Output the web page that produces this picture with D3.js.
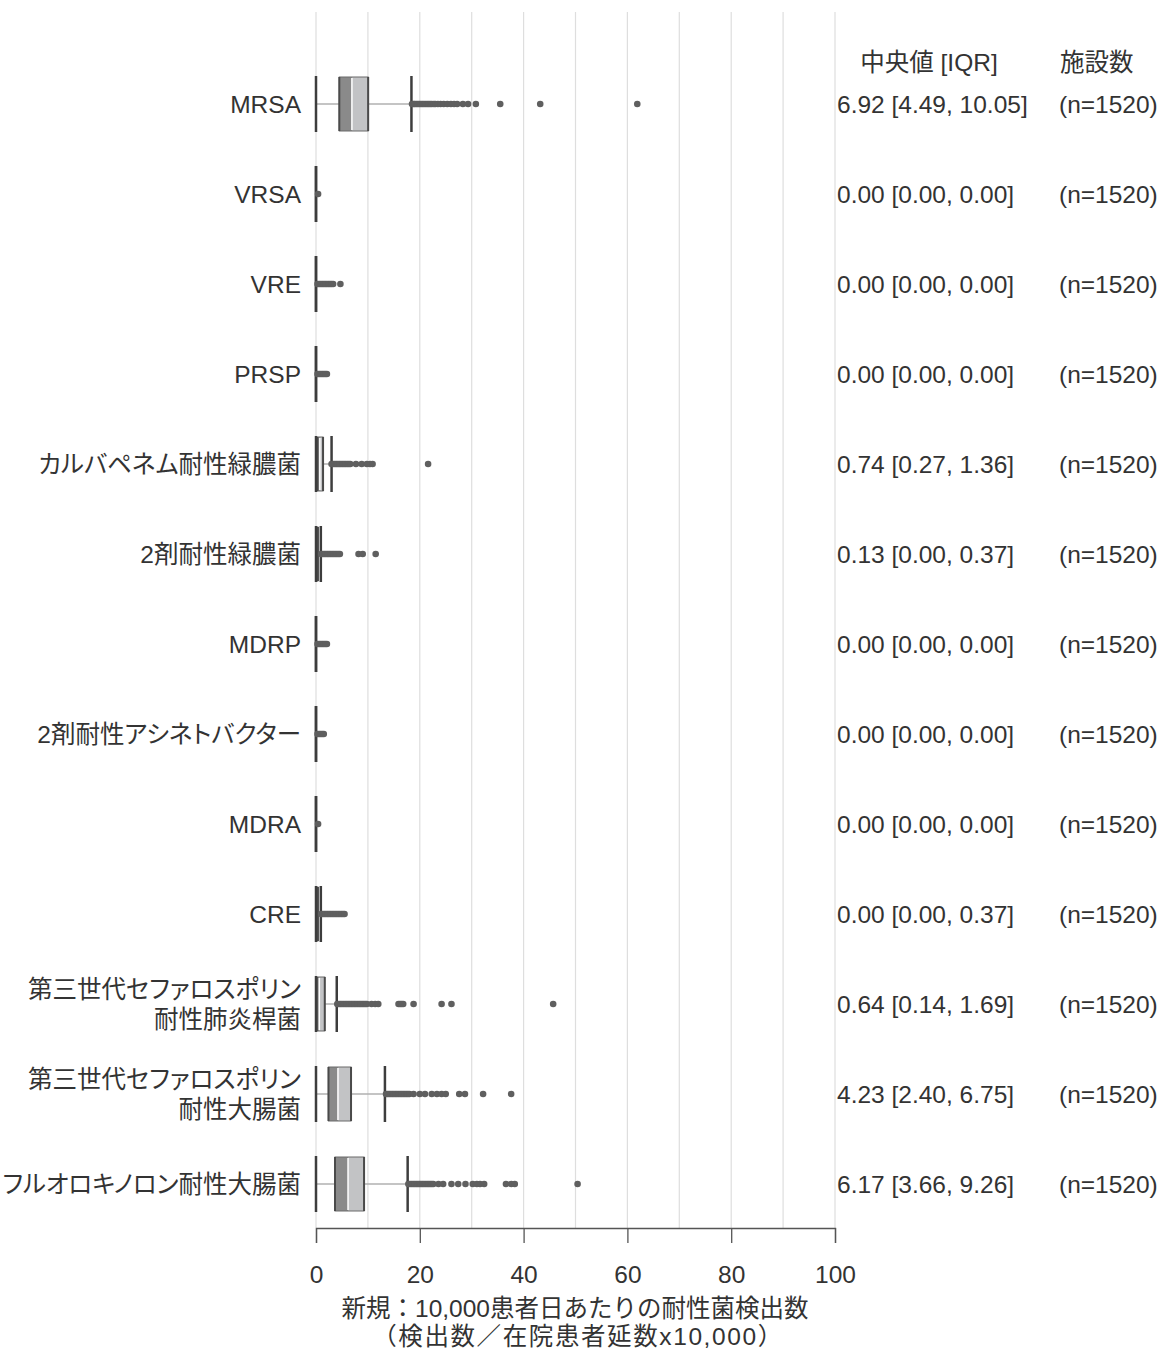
<!DOCTYPE html>
<html><head><meta charset="utf-8">
<script src="https://cdn.jsdelivr.net/npm/d3@7"></script>
<style>
html,body{margin:0;padding:0;background:#fff;}
svg text{font-family:"Liberation Sans",Arial,"Noto Sans CJK JP",sans-serif;fill:#333;}
svg text.cat{font-feature-settings:"palt";}
</style></head>
<body><svg id="c" width="1164" height="1349"></svg>
<script>
const categories = ["MRSA","VRSA","VRE","PRSP","カルバペネム耐性緑膿菌","2剤耐性緑膿菌","MDRP","2剤耐性アシネトバクター","MDRA","CRE","第三世代セファロスポリン\n耐性肺炎桿菌","第三世代セファロスポリン\n耐性大腸菌","フルオロキノロン耐性大腸菌"];
const whiskerLow = [0,0,0,0,0,0,0,0,0,0,0,0,0];
const q1 = [4.49,0,0,0,0.27,0,0,0,0,0,0.14,2.40,3.66];
const median = [6.92,0,0,0,0.74,0.13,0,0,0,0,0.64,4.23,6.17];
const q3 = [10.05,0,0,0,1.36,0.37,0,0,0,0.37,1.69,6.75,9.26];
const whiskerHigh = [18.39,0,0,0,3.0,0.93,0,0,0,0.93,4.0,13.28,17.66];
const outliers = [
  [18.5,18.8,19.0,19.3,19.6,19.9,20.2,20.5,20.8,21.1,21.4,21.7,22.0,22.3,22.7,23.0,23.5,24.0,24.6,25.3,26.0,26.6,27.2,28.3,29.3,30.8,35.5,43.2,61.9],
  [0.4],
  [0.3,0.6,0.9,1.2,1.5,1.8,2.1,2.4,2.7,3.0,3.3,4.7],
  [0.3,0.6,0.9,1.2,1.5,1.8,2.1],
  [3.0,3.3,3.6,3.9,4.2,4.5,4.8,5.1,5.4,5.7,6.0,6.3,6.6,7.7,8.8,9.8,10.4,10.9,21.6],
  [1.0,1.3,1.6,1.9,2.2,2.5,2.8,3.1,3.4,3.7,4.0,4.3,4.6,8.2,9.0,11.5],
  [0.3,0.6,0.9,1.2,1.5,1.8,2.1],
  [0.3,0.6,0.9,1.2,1.5],
  [0.4],
  [1.0,1.3,1.6,1.9,2.2,2.5,2.8,3.1,3.4,3.7,4.0,4.3,4.6,4.9,5.2,5.5],
  [4.1,4.4,4.7,5.0,5.3,5.6,5.9,6.2,6.5,6.8,7.1,7.4,7.7,8.0,8.3,8.6,8.9,9.2,9.5,9.8,10.7,11.4,12.0,15.9,16.2,16.5,16.8,18.8,24.2,26.1,45.7],
  [13.5,13.8,14.1,14.4,14.7,15.0,15.3,15.6,15.9,16.2,16.5,16.8,17.1,17.4,17.7,18.0,18.8,20.0,21.0,22.3,23.3,24.2,25.0,27.6,28.7,32.2,37.6],
  [17.8,18.1,18.4,18.7,19.0,19.3,19.6,19.9,20.2,20.5,20.8,21.1,21.4,21.7,22.0,22.3,22.6,23.6,24.5,26.1,27.4,28.8,30.2,31.0,31.6,32.4,36.6,37.6,38.3,50.4]
];
const medianLabels = ["6.92 [4.49, 10.05]","0.00 [0.00, 0.00]","0.00 [0.00, 0.00]","0.00 [0.00, 0.00]","0.74 [0.27, 1.36]","0.13 [0.00, 0.37]","0.00 [0.00, 0.00]","0.00 [0.00, 0.00]","0.00 [0.00, 0.00]","0.00 [0.00, 0.37]","0.64 [0.14, 1.69]","4.23 [2.40, 6.75]","6.17 [3.66, 9.26]"];
const nLabels = ["(n=1520)","(n=1520)","(n=1520)","(n=1520)","(n=1520)","(n=1520)","(n=1520)","(n=1520)","(n=1520)","(n=1520)","(n=1520)","(n=1520)","(n=1520)"];
const xTicks = [0,20,40,60,80,100];
const gridTicks = [0,10,20,30,40,50,60,70,80,90,100];
const headerMedian = "中央値 [IQR]";
const headerN = "施設数";
const xTitle = ["新規：10,000患者日あたりの耐性菌検出数","（検出数／在院患者延数x10,000）"];

const svg = d3.select("#c");
const x = d3.scaleLinear().domain([0,100]).range([316,835]);
const y = d3.scaleBand().domain(d3.range(categories.length)).range([59,1229]).paddingInner(0.4).paddingOuter(0.2);
const fs = 24.5;
const gridTop = 12, axisY = 1228;

// grid
svg.append("g").selectAll("line").data(gridTicks).join("line")
  .attr("x1",d=>x(d)).attr("x2",d=>x(d)).attr("y1",gridTop).attr("y2",axisY)
  .attr("stroke","#dedede").attr("stroke-width",1.2);

// axis
const axis = d3.axisBottom(x).tickValues(xTicks).tickSize(15).tickPadding(23).tickFormat(d3.format("d"));
const ax = svg.append("g").attr("transform",`translate(0,${axisY})`).call(axis);
ax.select(".domain").attr("stroke","#555").attr("stroke-width",1.3);
ax.selectAll(".tick line").attr("stroke","#555").attr("stroke-width",1.3);
ax.selectAll(".tick text").attr("font-size",fs).attr("fill","#333")
  .style("font-family",'"Liberation Sans",Arial,sans-serif');

svg.append("g").selectAll("text").data(xTitle).join("text")
  .attr("x",(d,i)=>i===0?575:578).attr("y",(d,i)=>1317+i*28).attr("text-anchor","middle").attr("font-size",fs)
  .attr("letter-spacing",(d,i)=>i===0?0:1.6).text(d=>d);

const data = categories.map((c,i)=>({c,i}));
const g = svg.append("g");
const bh = 54;

data.forEach(d=>{
  const i = d.i;
  const cy = y(i) + y.bandwidth()/2;
  const row = g.append("g");
  // whisker lines
  row.append("line").attr("x1",x(whiskerLow[i])).attr("x2",x(q1[i])).attr("y1",cy).attr("y2",cy).attr("stroke","#b0b0b0").attr("stroke-width",1.5);
  row.append("line").attr("x1",x(q3[i])).attr("x2",x(whiskerHigh[i])).attr("y1",cy).attr("y2",cy).attr("stroke","#b0b0b0").attr("stroke-width",1.5);
  // box halves
  row.append("rect").attr("x",x(q1[i])).attr("width",x(median[i])-x(q1[i])).attr("y",cy-bh/2).attr("height",bh).attr("fill","#8a8a8a");
  row.append("rect").attr("x",x(median[i])).attr("width",x(q3[i])-x(median[i])).attr("y",cy-bh/2).attr("height",bh).attr("fill","#c2c3c5");
  if (q3[i] > q1[i]) {
    row.append("rect").attr("x",x(q1[i])).attr("width",x(q3[i])-x(q1[i])).attr("y",cy-bh/2).attr("height",bh)
      .attr("fill","none").attr("stroke","#6a6a6a").attr("stroke-width",1);
    row.append("line").attr("x1",x(median[i])).attr("x2",x(median[i])).attr("y1",cy-bh/2+1).attr("y2",cy+bh/2-1).attr("stroke","#fff").attr("stroke-width",1.5);
    [q1[i],q3[i]].forEach(v=>row.append("line").attr("x1",x(v)).attr("x2",x(v)).attr("y1",cy-bh/2).attr("y2",cy+bh/2).attr("stroke","#4a4a4a").attr("stroke-width",2));
  }
  // caps
  [whiskerLow[i],whiskerHigh[i]].forEach(v=>row.append("line").attr("x1",x(v)).attr("x2",x(v)).attr("y1",cy-bh/2-1).attr("y2",cy+bh/2+1).attr("stroke","#3d3d3d").attr("stroke-width",2.5));
  // outliers
  row.selectAll("circle.o").data(outliers[i]).join("circle").attr("class","o")
    .attr("cx",v=>x(v)).attr("cy",cy).attr("r",3.3).attr("fill","#5f5f5f");
  // category label
  const lines = d.c.split("\n");
  const lt = row.append("text").attr("class","cat").attr("x",301).attr("text-anchor","end").attr("font-size",fs);
  lines.forEach((l,k)=>lt.append("tspan").attr("x",301).attr("y",cy + 9 + (k-(lines.length-1)/2)*29.5).text(l));
  // right labels
  row.append("text").attr("x",837).attr("y",cy+9).attr("font-size",fs).text(medianLabels[i]);
  row.append("text").attr("x",1059).attr("y",cy+9).attr("font-size",fs).text(nLabels[i]);
});

svg.append("text").attr("x",929).attr("y",71).attr("text-anchor","middle").attr("font-size",fs).text(headerMedian);
svg.append("text").attr("x",1060).attr("y",71).attr("font-size",fs).text(headerN);
</script></body></html>
